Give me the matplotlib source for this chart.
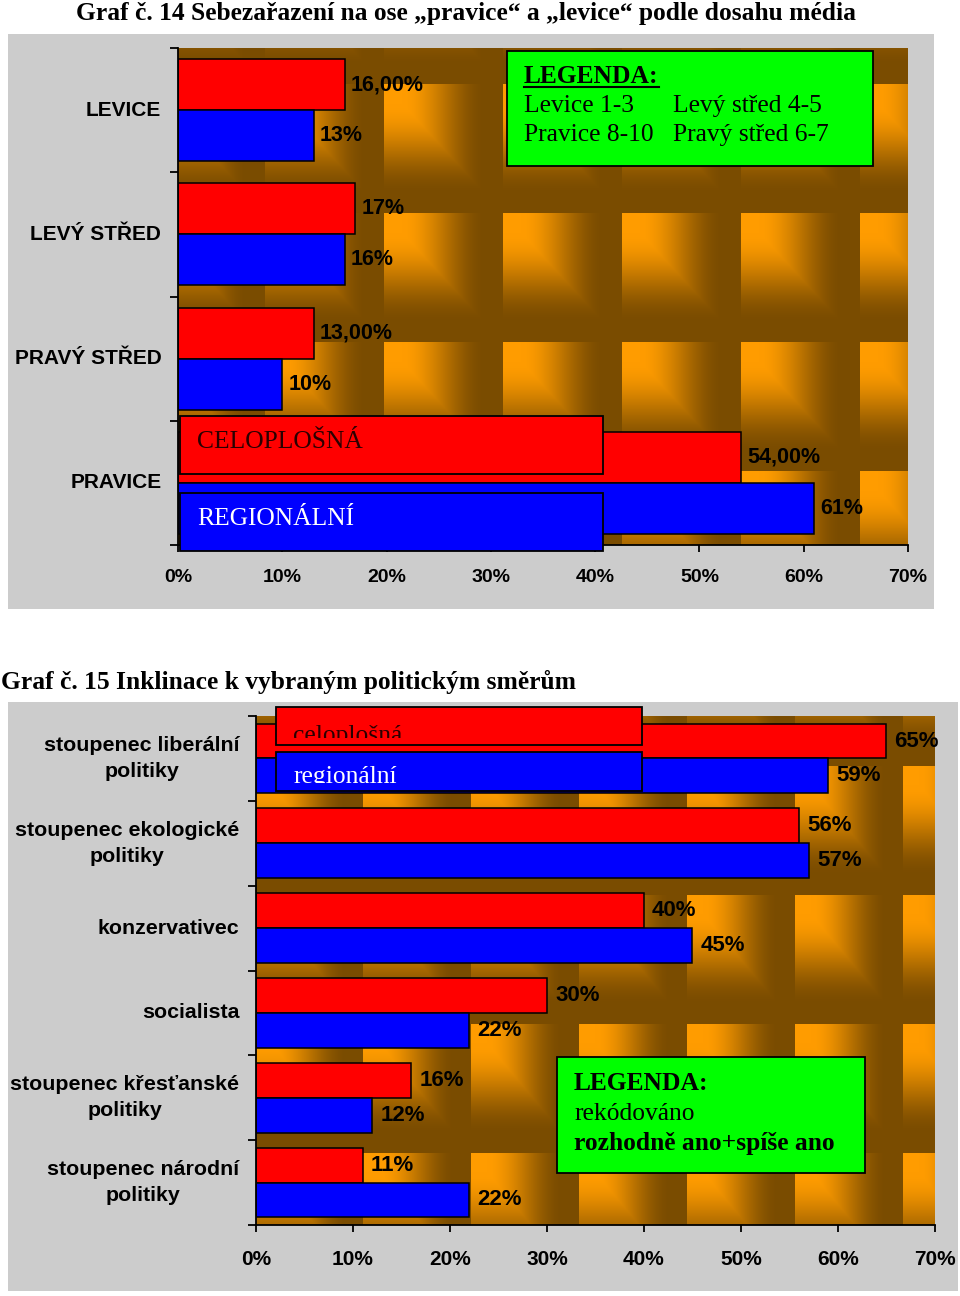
import numpy as np
import matplotlib
matplotlib.use("Agg")
import matplotlib.pyplot as plt
from matplotlib.patches import Rectangle
from matplotlib.lines import Line2D

W, H = 960, 1296

# Graf c. 14
kategorie14 = ["LEVICE", "LEVÝ STŘED", "PRAVÝ STŘED", "PRAVICE"]
celoplosna14 = [16, 17, 13, 54]
regionalni14 = [13, 16, 10, 61]
popisky_cel14 = ["16,00%", "17%", "13,00%", "54,00%"]
popisky_reg14 = ["13%", "16%", "10%", "61%"]

# Graf c. 15
kategorie15 = ["stoupenec liberální\npolitiky", "stoupenec ekologické\npolitiky",
               "konzervativec", "socialista",
               "stoupenec křesťanské\npolitiky", "stoupenec národní\npolitiky"]
celoplosna15 = [65, 56, 40, 30, 16, 11]
regionalni15 = [59, 57, 45, 22, 12, 22]
popisky_cel15 = ["65%", "56%", "40%", "30%", "16%", "11%"]
popisky_reg15 = ["59%", "57%", "45%", "22%", "12%", "22%"]

osa_x = [0, 10, 20, 30, 40, 50, 60, 70]

SANS = "Liberation Sans"
SERIF = "Liberation Serif"
RED = "#ff0000"
BLUE = "#0000ff"
GREEN = "#00ff00"

fig = plt.figure(figsize=(W / 100, H / 100), dpi=100)
fig.patch.set_facecolor("white")


def fx(x):
    return x / W


def fy(y):
    return 1 - y / H


def box(x0, y0, x1, y1, color, edge="none", lw=0, z=-1):
    r = Rectangle((fx(x0), fy(y1)), (x1 - x0) / W, (y1 - y0) / H,
                  transform=fig.transFigure, facecolor=color,
                  edgecolor=edge, linewidth=lw, zorder=z)
    fig.add_artist(r)
    return r


def txt(x, y, s, size=18.4, family=SERIF, weight="normal", color="black", **kw):
    return fig.text(fx(x), fy(y), s, fontsize=size, family=family,
                    fontweight=weight, color=color, va="baseline", ha="left", **kw)


def textura(w, h, x0, y0, pw, ph):
    # dlazdice: oranzova vlevo nahore, tmavne doprava a dolu
    u = ((np.arange(w) - x0) % pw) / pw
    v = ((np.arange(h) - y0) % ph) / ph
    U, V = np.meshgrid(u, v)
    t = np.maximum(U, V)
    t = np.clip((t - 0.15) / 0.7, 0, 1)
    t = t * t * (3 - 2 * t)
    svetla = np.array([255, 156, 0]) / 255
    tmava = np.array([122, 76, 0]) / 255
    return svetla * (1 - t)[..., None] + tmava * t[..., None]


def graf(ax, kat, cel, reg, pcel, preg, img, fs_kat, fs_tick, fs_lab, off, tpad):
    n = len(kat)
    y = np.arange(n)
    h = 0.41
    ax.imshow(img, extent=(0, 70, n - 0.5, -0.5), aspect="auto",
              origin="upper", zorder=0, interpolation="bilinear")
    ax.barh(y - h / 2, cel, height=h, color=RED, edgecolor="black", linewidth=1.1, zorder=3)
    ax.barh(y + h / 2, reg, height=h, color=BLUE, edgecolor="black", linewidth=1.1, zorder=3)
    for i in range(n):
        ax.annotate(pcel[i], (cel[i], y[i] - h / 2), xytext=(off, 0),
                    textcoords="offset points", va="center", ha="left",
                    fontsize=fs_lab, fontweight="bold", family=SANS, zorder=4)
        ax.annotate(preg[i], (reg[i], y[i] + h / 2), xytext=(off, 0),
                    textcoords="offset points", va="center", ha="left",
                    fontsize=fs_lab, fontweight="bold", family=SANS, zorder=4)
    ax.set_xlim(0, 70)
    ax.set_ylim(n - 0.5, -0.5)
    ax.set_xticks(osa_x)
    ax.set_xticklabels([f"{v}%" for v in osa_x], fontsize=fs_tick,
                       fontweight="bold", family=SANS)
    ax.set_yticks(np.arange(n + 1) - 0.5, minor=True)
    ax.set_yticks(y)
    ax.set_yticklabels(kat, fontsize=fs_kat, fontweight="bold", family=SANS,
                       multialignment="center", linespacing=1.5, va="center")
    ax.tick_params(axis="y", which="major", length=0, pad=12)
    ax.tick_params(axis="y", which="minor", length=6, width=1.3, direction="out")
    ax.tick_params(axis="x", length=5, width=1.3, direction="out", pad=tpad)
    for s in ["top", "right"]:
        ax.spines[s].set_visible(False)
    for s in ["left", "bottom"]:
        ax.spines[s].set_linewidth(1.3)
        ax.spines[s].set_zorder(5)


# ---------- Graf c. 14 ----------
txt(76, 20, "Graf č. 14 Sebezařazení na ose „pravice“ a „levice“ podle dosahu média",
    size=18.4, weight="bold")
box(8, 34, 934, 609, "#cccccc")
ax1 = fig.add_axes([178 / W, 1 - 545 / H, 730 / W, 497 / H])
graf(ax1, kategorie14, celoplosna14, regionalni14, popisky_cel14, popisky_reg14,
     textura(730, 497, -32, 36, 119, 129), 15, 14, 15.5, 4.3, 12.5)

box(507, 51, 873, 166, GREEN, "black", 1.3, z=6)
txt(524, 83, "LEGENDA:", weight="bold", zorder=7)
fig.add_artist(Line2D([fx(524), fx(659)], [fy(87), fy(87)], color="black",
                      linewidth=1.5, transform=fig.transFigure, zorder=7))
txt(524, 112, "Levice 1-3", zorder=7)
txt(673, 112, "Levý střed 4-5", zorder=7)
txt(524, 141, "Pravice 8-10", zorder=7)
txt(673, 141, "Pravý střed 6-7", zorder=7)

box(180, 416, 603, 474, RED, "black", 1.3, z=6)
txt(197, 448, "CELOPLOŠNÁ", color="#2a0000", zorder=7)
box(180, 493, 603, 551, BLUE, "black", 1.3, z=6)
txt(197, 525, "REGIONÁLNÍ", color="white", zorder=7)

# ---------- Graf c. 15 ----------
txt(1, 689, "Graf č. 15 Inklinace k vybraným politickým směrům", size=18.4, weight="bold")
box(8, 702, 958, 1291, "#cccccc")
ax2 = fig.add_axes([256 / W, 1 - 1225 / H, 679 / W, 509 / H])
graf(ax2, kategorie15, celoplosna15, regionalni15, popisky_cel15, popisky_reg15,
     textura(679, 509, -1, 50, 108, 129), 15.4, 15, 16, 5.8, 13)

box(276, 707, 642, 745, RED, "black", 1.3, z=6)
clip1 = Rectangle((fx(276), fy(738)), 366 / W, 31 / H, transform=fig.transFigure)
t1 = txt(293, 742, "celoplošná", color="#2a0000", zorder=7, clip_on=True)
t1.set_clip_path(clip1)
box(276, 752, 642, 791, BLUE, "black", 1.3, z=6)
clip2 = Rectangle((fx(276), fy(783)), 366 / W, 31 / H, transform=fig.transFigure)
t2 = txt(293, 783, "regionální", color="white", zorder=7, clip_on=True)
t2.set_clip_path(clip2)

box(557, 1057, 865, 1173, GREEN, "black", 1.3, z=6)
txt(574, 1090, "LEGENDA:", weight="bold", zorder=7)
txt(574, 1120, "rekódováno", zorder=7)
txt(574, 1150, "rozhodně ano+spíše ano", weight="bold", zorder=7)

fig.savefig("out.png", dpi=100)
